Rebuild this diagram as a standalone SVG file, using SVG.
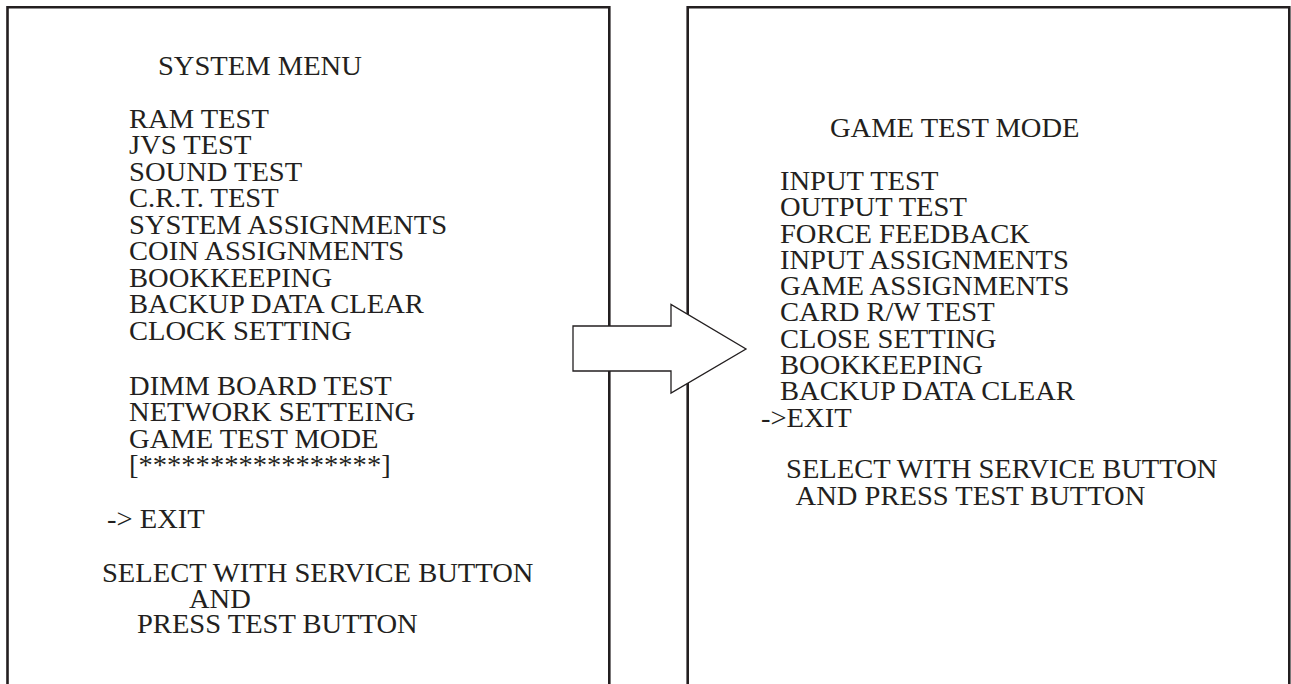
<svg xmlns="http://www.w3.org/2000/svg" width="1291" height="684" viewBox="0 0 1291 684">
<style>
.frame{fill:none;stroke:#231f20;stroke-width:2.6}
.arrow{fill:#fff;stroke:#231f20;stroke-width:1.3;stroke-linejoin:miter}
text{font-family:"Liberation Serif","Times New Roman",serif;font-size:28px;fill:#231f20}
</style>
<rect width="1291" height="684" fill="#fff"/>
<g id="system-menu">
<path class="frame" d="M7.5,690 V7.3 H609.3 V690"/>
<g transform="scale(1.02 1)">
<text x="154.9" y="75">SYSTEM MENU</text>
<text x="126.5" y="128">RAM TEST</text>
<text x="126.5" y="154.5">JVS TEST</text>
<text x="126.5" y="181">SOUND TEST</text>
<text x="126.5" y="207.5">C.R.T. TEST</text>
<text x="126.5" y="234">SYSTEM ASSIGNMENTS</text>
<text x="126.5" y="260.5">COIN ASSIGNMENTS</text>
<text x="126.5" y="287">BOOKKEEPING</text>
<text x="126.5" y="313.5">BACKUP DATA CLEAR</text>
<text x="126.5" y="340">CLOCK SETTING</text>
<text x="126.5" y="395">DIMM BOARD TEST</text>
<text x="126.5" y="421.5">NETWORK SETTEING</text>
<text x="126.5" y="448">GAME TEST MODE</text>
<text x="126.5" y="474.5">[*****************]</text>
<text x="104.9" y="528">-&gt; EXIT</text>
<text x="100" y="582">SELECT WITH SERVICE BUTTON</text>
<text x="185.3" y="608">AND</text>
<text x="134.3" y="633">PRESS TEST BUTTON</text>
</g>
</g>
<g id="game-test-mode">
<path class="frame" d="M687.7,690 V7.3 H1289.3 V690"/>
<g transform="scale(1.02 1)">
<text x="813.7" y="137">GAME TEST MODE</text>
<text x="764.7" y="190">INPUT TEST</text>
<text x="764.7" y="216.3">OUTPUT TEST</text>
<text x="764.7" y="242.6">FORCE FEEDBACK</text>
<text x="764.7" y="268.9">INPUT ASSIGNMENTS</text>
<text x="764.7" y="295.2">GAME ASSIGNMENTS</text>
<text x="764.7" y="321.5">CARD R/W TEST</text>
<text x="764.7" y="347.8">CLOSE SETTING</text>
<text x="764.7" y="374.1">BOOKKEEPING</text>
<text x="764.7" y="400.4">BACKUP DATA CLEAR</text>
<text x="746.1" y="426.7">-&gt;EXIT</text>
<text x="770.6" y="478.5">SELECT WITH SERVICE BUTTON</text>
<text x="780" y="505">AND PRESS TEST BUTTON</text>
</g>
</g>
<g id="connectors">
<polygon class="arrow" points="573,326 671,326 671,304.5 746,349 671,393 671,371 573,371"/>
</g>
</svg>
